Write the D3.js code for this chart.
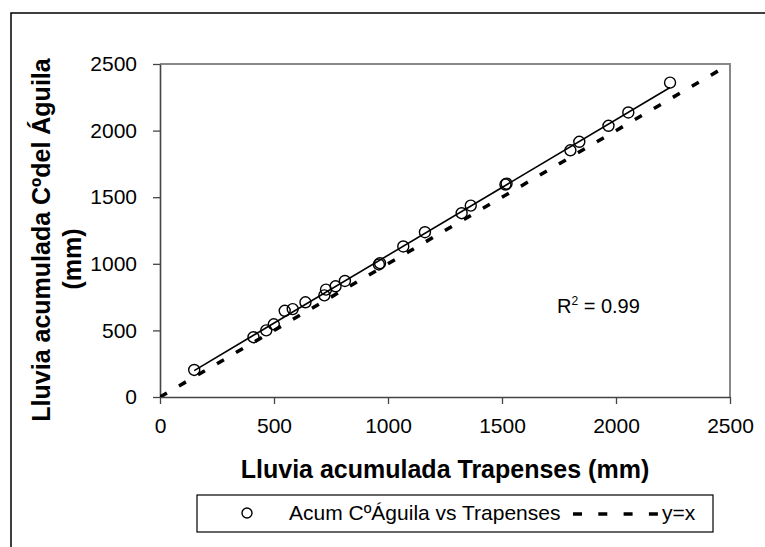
<!DOCTYPE html>
<html>
<head>
<meta charset="utf-8">
<script src="https://cdn.jsdelivr.net/npm/d3@7"></script>
<style>
  html, body { margin: 0; padding: 0; background: #fff; }
  svg { display: block; font-family: "Liberation Sans", Arial, sans-serif; }
</style>
</head>
<body>
<svg id="chart" width="765" height="547"></svg>
<script>
// Cumulative rainfall (mm): Trapenses station (x) vs Cº del Águila station (y)
const trapenses = [150, 410, 466, 499, 547, 582, 638, 721, 728, 770, 811, 960, 965,
                   1067, 1162, 1323, 1363, 1515, 1520, 1800, 1839, 1967, 2054, 2237];
const aguila    = [203, 449, 500, 546, 647, 660, 711, 763, 806, 831, 871, 995, 1005,
                   1130, 1237, 1380, 1437, 1595, 1602, 1852, 1916, 2036, 2136, 2360];
const tickValues = [0, 500, 1000, 1500, 2000, 2500];
const axisDomain = [0, 2500];
const r2Label = "0.99";

const svg = d3.select("#chart");
const margin = { left: 160, right: 730, top: 64, bottom: 397 };

const x = d3.scaleLinear().domain(axisDomain).range([margin.left, margin.right]);
const y = d3.scaleLinear().domain(axisDomain).range([margin.bottom, margin.top]);

// Outer chart frame
svg.append("path")
  .attr("d", "M11,560 L11,13 L780,13")
  .attr("fill", "none").attr("stroke", "#000").attr("stroke-width", 1.5);

// Plot area border (top and right)
svg.append("path")
  .attr("d", `M${margin.left},${margin.top} L${margin.right},${margin.top} L${margin.right},${margin.bottom}`)
  .attr("fill", "none").attr("stroke", "#888").attr("stroke-width", 2);

svg.append("clipPath").attr("id", "plotclip")
  .append("rect")
  .attr("x", margin.left).attr("y", margin.top)
  .attr("width", margin.right - margin.left).attr("height", margin.bottom - margin.top);

// Axes
const xAxis = d3.axisBottom(x).tickValues(tickValues).tickSizeInner(7).tickSizeOuter(0).tickPadding(14)
  .tickFormat(d3.format("d"));
const yAxis = d3.axisLeft(y).tickValues(tickValues).tickSizeInner(7).tickSizeOuter(0).tickPadding(16)
  .tickFormat(d3.format("d"));

const gx = svg.append("g").attr("transform", `translate(0,${margin.bottom})`).call(xAxis);
const gy = svg.append("g").attr("transform", `translate(${margin.left},0)`).call(yAxis);
[gx, gy].forEach(g => {
  g.selectAll("path.domain").attr("stroke", "#444").attr("stroke-width", 1.6);
  g.selectAll(".tick line").attr("stroke", "#444").attr("stroke-width", 1.3);
  g.selectAll(".tick text").attr("font-size", 21).attr("fill", "#000")
    .attr("font-family", "Liberation Sans, Arial, sans-serif");
});

const plot = svg.append("g").attr("clip-path", "url(#plotclip)");

// y = x reference line
plot.append("line")
  .attr("x1", x(axisDomain[0])).attr("y1", y(axisDomain[0]))
  .attr("x2", x(axisDomain[1])).attr("y2", y(axisDomain[1]))
  .attr("stroke", "#000").attr("stroke-width", 3.5)
  .attr("stroke-dasharray", "8,14");

// Linear trendline (least squares) spanning the observed range
const n = trapenses.length;
const mx = d3.mean(trapenses), my = d3.mean(aguila);
let sxy = 0, sxx = 0;
for (let i = 0; i < n; i++) {
  sxy += (trapenses[i] - mx) * (aguila[i] - my);
  sxx += (trapenses[i] - mx) ** 2;
}
const slope = sxy / sxx, intercept = my - slope * mx;
const [xmin, xmax] = d3.extent(trapenses);
plot.append("line")
  .attr("x1", x(xmin)).attr("y1", y(intercept + slope * xmin))
  .attr("x2", x(xmax)).attr("y2", y(intercept + slope * xmax))
  .attr("stroke", "#000").attr("stroke-width", 1.6);

// Observations
plot.selectAll("circle.obs")
  .data(d3.range(n))
  .join("circle")
  .attr("class", "obs")
  .attr("cx", i => x(trapenses[i]))
  .attr("cy", i => y(aguila[i]))
  .attr("r", 5.5)
  .attr("fill", "none")
  .attr("stroke", "#000").attr("stroke-width", 1.4);

// R² annotation
const r2 = svg.append("text").attr("x", 557).attr("y", 313)
  .attr("font-size", 20).attr("fill", "#000");
r2.append("tspan").text("R");
r2.append("tspan").attr("font-size", 12).attr("dy", -8).text("2");
r2.append("tspan").attr("dy", 8).text(" = " + r2Label);

// Axis titles
svg.append("text")
  .attr("x", 445).attr("y", 478)
  .attr("text-anchor", "middle")
  .attr("font-size", 25).attr("font-weight", "bold")
  .text("Lluvia acumulada Trapenses (mm)");

svg.append("text")
  .attr("transform", "translate(50,240) rotate(-90)")
  .attr("text-anchor", "middle")
  .attr("font-size", 25).attr("font-weight", "bold")
  .text("Lluvia acumulada Cºdel Águila");
svg.append("text")
  .attr("transform", "translate(81,259) rotate(-90)")
  .attr("text-anchor", "middle")
  .attr("font-size", 25).attr("font-weight", "bold")
  .text("(mm)");

// Legend
const legend = svg.append("g");
legend.append("rect")
  .attr("x", 197).attr("y", 495).attr("width", 516).attr("height", 37)
  .attr("fill", "#fff").attr("stroke", "#000").attr("stroke-width", 1.2);
legend.append("circle")
  .attr("cx", 247).attr("cy", 513).attr("r", 5)
  .attr("fill", "none").attr("stroke", "#000").attr("stroke-width", 1.4);
legend.append("text").attr("x", 289).attr("y", 520)
  .attr("font-size", 21).text("Acum CºÁguila vs Trapenses");
legend.append("line")
  .attr("x1", 573).attr("y1", 514).attr("x2", 658).attr("y2", 514)
  .attr("stroke", "#000").attr("stroke-width", 3.5)
  .attr("stroke-dasharray", "9,16.3");
legend.append("text").attr("x", 662).attr("y", 520)
  .attr("font-size", 21).text("y=x");
</script>
</body>
</html>
